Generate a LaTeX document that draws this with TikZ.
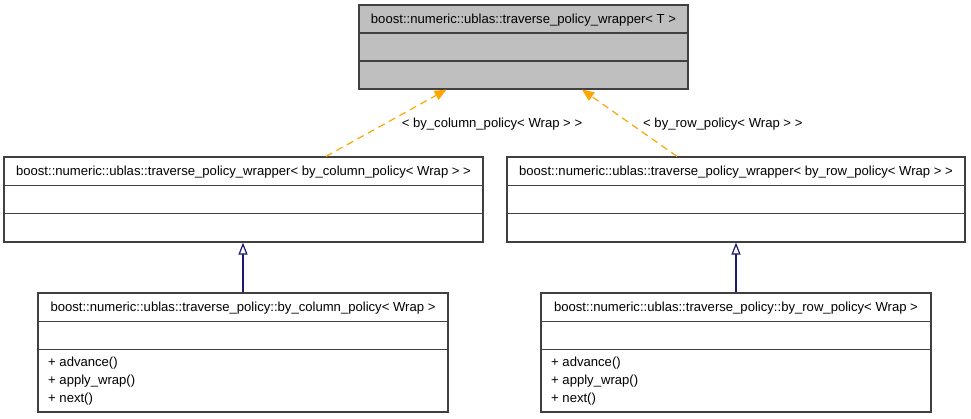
\documentclass[tikz,border=0pt]{standalone}
\usepackage{fontspec}
\setmainfont{Liberation Sans}
\usetikzlibrary{arrows.meta}
\definecolor{edgegray}{HTML}{404040}
\definecolor{boxfill}{HTML}{BFBFBF}
\definecolor{inhorange}{HTML}{FFA500}
\definecolor{inhblue}{HTML}{191970}
\tikzset{
  box/.style={draw=edgegray, line width=1.2pt, rectangle, inner sep=0pt},
  divider/.style={draw=edgegray, line width=1.2pt},
  txt/.style={inner sep=0pt, font=\fontsize{13.1}{15}\selectfont},
  lbl/.style={inner sep=0pt, font=\fontsize{13.1}{15}\selectfont},
  tmpl/.style={draw=inhorange, line width=1.2pt, dash pattern=on 7pt off 5pt, -{Triangle[length=12pt,width=10pt,fill=inhorange]}},
  inh/.style={draw=inhblue, line width=1.2pt, -{Triangle[open,length=12pt,width=9pt,fill=white]}}
}
\begin{document}
\begin{tikzpicture}[x=1pt,y=-1pt]
\useasboundingbox (0,0) rectangle (971,419);
% top class
\node[box, fill=boxfill, minimum width=329pt, minimum height=84pt] (top) at (523.5,47) {};
\draw[divider] (top.west |- 0,33) -- (top.east |- 0,33);
\draw[divider] (top.west |- 0,61) -- (top.east |- 0,61);
\node[txt] (toptitle) at (523.5,20.5) {boost::numeric::ublas::traverse\_policy\_wrapper< T >};
% left middle
\node[box, fill=white, minimum width=479pt, minimum height=85pt] (lm) at (243.5,199.5) {};
\draw[divider] (lm.west |- 0,185.5) -- (lm.east |- 0,185.5);
\draw[divider] (lm.west |- 0,213.5) -- (lm.east |- 0,213.5);
\node[txt] (lmtitle) at (243.5,172.5) {boost::numeric::ublas::traverse\_policy\_wrapper< by\_column\_policy< Wrap > >};
% right middle
\node[box, fill=white, minimum width=458pt, minimum height=85pt] (rm) at (736,199.5) {};
\draw[divider] (rm.west |- 0,185.5) -- (rm.east |- 0,185.5);
\draw[divider] (rm.west |- 0,213.5) -- (rm.east |- 0,213.5);
\node[txt] (rmtitle) at (736,172.5) {boost::numeric::ublas::traverse\_policy\_wrapper< by\_row\_policy< Wrap > >};
% left bottom
\node[box, fill=white, minimum width=410pt, minimum height=119pt] (lb) at (243,352.5) {};
\draw[divider] (lb.west |- 0,321.5) -- (lb.east |- 0,321.5);
\draw[divider] (lb.west |- 0,349.5) -- (lb.east |- 0,349.5);
\node[txt] (lbtitle) at (243,308.5) {boost::numeric::ublas::traverse\_policy::by\_column\_policy< Wrap >};
\node[txt, anchor=west] (lbm1) at (48,363.5) {+ advance()};
\node[txt, anchor=west] (lbm2) at (48,381.5) {+ apply\_wrap()};
\node[txt, anchor=west] (lbm3) at (48,399.5) {+ next()};
% right bottom
\node[box, fill=white, minimum width=390pt, minimum height=119pt] (rb) at (736,352.5) {};
\draw[divider] (rb.west |- 0,321.5) -- (rb.east |- 0,321.5);
\draw[divider] (rb.west |- 0,349.5) -- (rb.east |- 0,349.5);
\node[txt] (rbtitle) at (736,308.5) {boost::numeric::ublas::traverse\_policy::by\_row\_policy< Wrap >};
\node[txt, anchor=west] (rbm1) at (551,363.5) {+ advance()};
\node[txt, anchor=west] (rbm2) at (551,381.5) {+ apply\_wrap()};
\node[txt, anchor=west] (rbm3) at (551,399.5) {+ next()};
% template edges
\draw[tmpl] ([xshift=82.5pt]lm.north) -- ([xshift=-77pt]top.south);
\draw[tmpl] ([xshift=-59pt]rm.north) -- ([xshift=58.5pt]top.south);
\node[lbl] (l1) at (492,124) {< by\_column\_policy< Wrap > >};
\node[lbl, anchor=west] (l2) at (643,124) {< by\_row\_policy< Wrap > >};
% inheritance edges
\draw[inh] (lb.north) -- (lb.north |- lm.south);
\draw[inh] (rb.north) -- (rb.north |- rm.south);
\end{tikzpicture}
\end{document}
